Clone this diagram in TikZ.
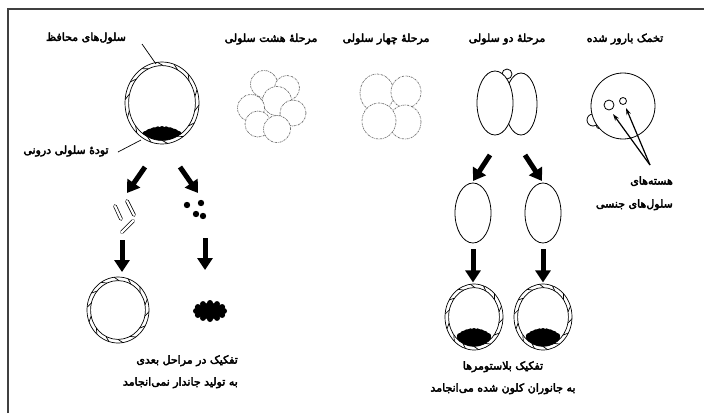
\documentclass[tikz,border=0pt]{standalone}
\usepackage{fontspec}
\newfontfamily\arabicfont[Script=Arabic, FakeBold=3.5]{DejaVu Sans}
\TeXXeTstate=1
\usetikzlibrary{arrows.meta, calc, shapes.geometric}

% chain of flat cells: two outlines joined by short cross walls
\newcommand\cellring[3]{%
  \pgfmathsetmacro\ringrx{#2-3.6}%
  \pgfmathsetmacro\ringry{#3-3.6}%
  \draw[ringline] (#1) ellipse [x radius=#2pt, y radius=#3pt];
  \draw[ringline] (#1) ellipse [x radius=\ringrx pt, y radius=\ringry pt];
  \foreach \a [evaluate=\a as \b using \a+9] in {10,36,...,360}
    \draw[ringline] ($(#1)+(\a:\ringrx pt and \ringry pt)$) -- ($(#1)+(\b:#2pt and #3pt)$);
}
% dark lump of cells sitting inside a ring: cx, cy, rx, ry, top, half width
\newcommand\innermass[6]{%
  \begin{scope}
    \pgfmathsetmacro\ringrx{#3-3.6}%
    \pgfmathsetmacro\ringry{#4-3.6}%
    \clip (#1,#2) ellipse [x radius=\ringrx pt, y radius=\ringry pt];
    \fill (#1,#5+10) ellipse [x radius=#6pt, y radius=9pt];
    \foreach \k in {-4,...,4}
      \fill ({#1+\k*#6/4.8},{#5+3+(\k/4)^2*5}) circle [radius=3pt];
  \end{scope}
}

\begin{document}
\begin{tikzpicture}[x=1pt, y=-1pt,
    lbl/.style={font=\arabicfont\fontsize{11}{13}\selectfont, inner sep=0pt},
    cell/.style={ellipse, draw, fill=white, line width=0.8pt, inner sep=0pt},
    dotcell/.style={cell, draw=black!55, line width=0.7pt, dash pattern=on 2pt off 0.9pt on 0.6pt off 0.9pt},
    ringline/.style={line width=0.7pt},
    leader/.style={line width=0.7pt},
    fat/.style={line width=5pt, -{Triangle[length=12pt, width=15pt]}},
    pointer/.style={line width=1.2pt, -{Stealth[length=7pt, width=4.5pt]}}
  ]
  \useasboundingbox (0,0) rectangle (704,413);
  \draw[line width=1.2pt, black!75] (8,413) -- (8,9) -- (704,9);

  % stage titles
  \node[lbl] (t8) at (271,39) {\beginR مرحلهٔ هشت سلولی\endR};
  \node[lbl] (t4) at (386,39) {\beginR مرحلهٔ چهار سلولی\endR};
  \node[lbl] (t2) at (507,39) {\beginR مرحلهٔ دو سلولی\endR};
  \node[lbl] (tz) at (625,39) {\beginR تخمک بارور شده\endR};

  % fertilized egg
  \node[cell, minimum size=12pt] (pb1) at (593,120) {};
  \node[cell, minimum size=5pt] (pb2) at (599,126) {};
  \node[cell, minimum width=64pt, minimum height=66pt] (zyg) at (623,106) {};
  \node[cell, minimum size=10pt] (nuc1) at (609,105) {};
  \node[cell, minimum size=7pt] (nuc2) at (623,101) {};
  \coordinate (nucbase) at (650,165);
  \draw[pointer] (nucbase) -- (613,114);
  \draw[pointer] (nucbase) -- (626,108);
  \node[lbl, align=right, anchor=north east] (tnuc) at (673,176)
    {\beginR هسته‌های\endR\\[10pt]\beginR سلول‌های جنسی\endR};

  % two cells
  \node[cell, minimum size=10pt] (pb3) at (507,74) {};
  \node[cell, minimum width=32pt, minimum height=62pt] (twoR) at (521,104) {};
  \node[cell, minimum width=36pt, minimum height=64pt] (twoL) at (495,103) {};

  % four cells
  \node[dotcell, minimum width=34pt, minimum height=38pt] (c4a) at (377,93) {};
  \node[dotcell, minimum width=30pt, minimum height=32pt] (c4b) at (406,92) {};
  \node[dotcell, minimum width=32pt, minimum height=34pt] (c4d) at (405,122) {};
  \node[dotcell, minimum width=34pt, minimum height=36pt] (c4c) at (379,121) {};

  % eight cells
  \node[dotcell, minimum size=27pt] (c8a) at (264,84) {};
  \node[dotcell, minimum size=25pt] (c8b) at (287,88) {};
  \node[dotcell, minimum size=29pt] (c8c) at (277,101) {};
  \node[dotcell, minimum size=27pt] (c8d) at (251,108) {};
  \node[dotcell, minimum size=26pt] (c8e) at (293,113) {};
  \node[dotcell, minimum size=26pt] (c8f) at (258,124) {};
  \node[dotcell, minimum size=27pt] (c8g) at (277,129) {};

  % blastocyst
  \cellring{162,103}{37}{41}
  \innermass{162}{103}{37}{41}{126}{20}
  \node[lbl] (tguard) at (86,38) {\beginR سلول‌های محافظ\endR};
  \node[lbl] (tmass) at (66,151) {\beginR تودهٔ سلولی درونی\endR};
  \coordinate (guardpt) at (156,64);
  \coordinate (masspt) at (141,140);
  \draw[leader] (142,44) -- (guardpt);
  \draw[leader] (118,152) -- (masspt);

  % blastocyst taken apart
  \draw[fat] (145,167) -- (127,193);
  \draw[fat] (180,167) -- (198,193);
  \foreach \xa/\ya/\xb/\yb in {115/206/121/219, 127/201/134/215, 122/232/133/221}
    \draw[line width=0.7pt, double distance=2.2pt, line cap=round] (\xa,\ya) -- (\xb,\yb);
  \foreach \xa/\ya in {187/205, 201/203, 196/214, 203/216}
    \fill (\xa,\ya) circle [radius=3.2pt];
  \draw[fat] (122,240) -- (122,272);
  \draw[fat] (205,238) -- (205,270);
  \cellring{118,310}{31}{33}
  \fill (210,311) ellipse [x radius=14pt, y radius=8pt];
  \foreach \a in {0,30,...,330}
    \fill ($(210,311)+(\a:14pt and 8pt)$) circle [radius=3pt];
  \node[lbl, align=right, anchor=north east] (tfail) at (238,355)
    {\beginR تفکیک در مراحل بعدی\endR\\[9pt]\beginR به تولید جاندار نمی‌انجامد\endR};

  % two cells taken apart
  \draw[fat] (490,155) -- (473,181);
  \draw[fat] (525,155) -- (542,181);
  \node[cell, minimum width=36pt, minimum height=60pt] (sepL) at (473,213) {};
  \node[cell, minimum width=36pt, minimum height=60pt] (sepR) at (543,213) {};
  \draw[fat] (sepL.south) ++(0,6) -- ++(0,33);
  \draw[fat] (sepR.south) ++(0,6) -- ++(0,33);
  \cellring{474,317}{29}{33}
  \innermass{474}{317}{29}{33}{328}{17}
  \cellring{543,317}{29}{33}
  \innermass{543}{317}{29}{33}{328}{17}
  \node[lbl, align=center, anchor=north] (tclone) at (503,361)
    {\beginR تفکیک بلاستومرها\endR\\[9pt]\beginR به جانوران کلون شده می‌انجامد\endR};
\end{tikzpicture}
\end{document}
